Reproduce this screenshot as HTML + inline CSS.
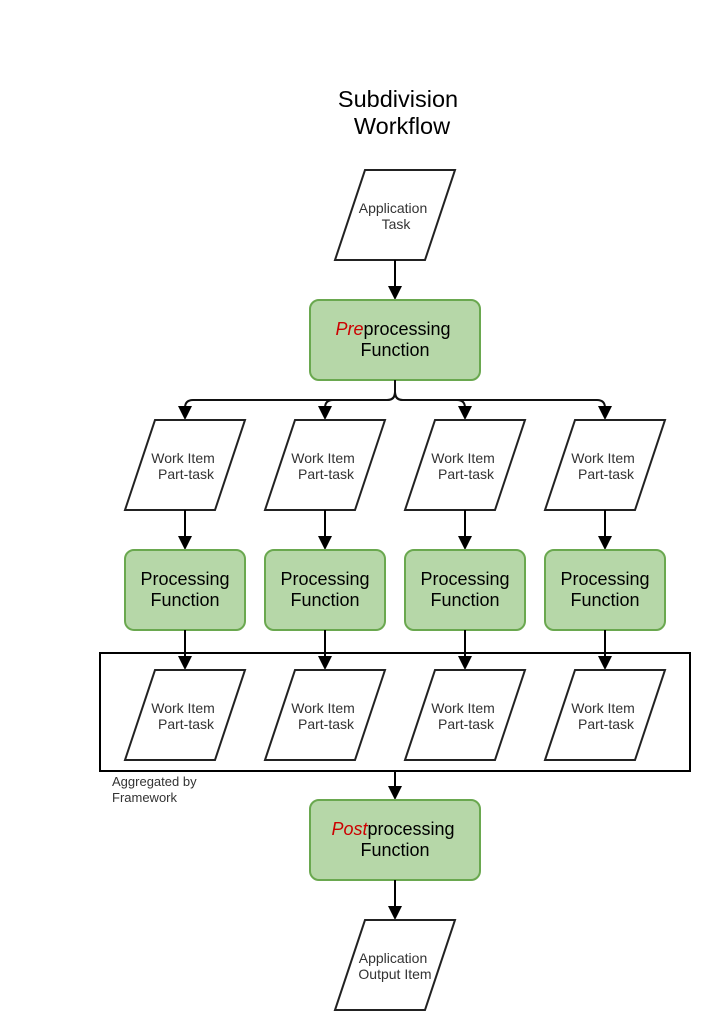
<!DOCTYPE html>
<html><head><meta charset="utf-8"><style>
html,body{margin:0;padding:0;background:#fff;}
svg{display:block;font-family:"Liberation Sans",Arial,sans-serif;}
</style></head><body>
<svg width="710" height="1030" viewBox="0 0 710 1030" xmlns="http://www.w3.org/2000/svg">
<g font-size="23.5" fill="#000" text-anchor="middle">
<text x="398" y="107">Subdivision</text>
<text x="402" y="134">Workflow</text>
</g>

<!-- Application Task -->
<polygon points="365,170 455,170 425,260 335,260" fill="#fff" stroke="#222" stroke-width="2"/>
<g font-size="14" fill="#333" text-anchor="middle">
<text x="393" y="213">Application</text>
<text x="396" y="229">Task</text>
</g>
<line x1="395" y1="260" x2="395" y2="287" stroke="#000" stroke-width="2"/>
<polygon points="388,286 402,286 395,300" fill="#000"/>

<!-- Pre -->
<rect x="310" y="300" width="170" height="80" rx="9" fill="#b6d7a8" stroke="#6aa84f" stroke-width="2"/>
<text x="393" y="335" font-size="18" text-anchor="middle"><tspan fill="#cc0000" font-style="italic">Pre</tspan>processing</text>
<text x="395" y="356" font-size="18" text-anchor="middle">Function</text>

<!-- branch -->
<g fill="none" stroke="#111" stroke-width="2">
<path d="M395,380 L395,392 Q395,400 387,400 L193,400 Q185,400 185,408 L185,410"/>
<path d="M395,392 Q395,400 387,400 L333,400 Q325,400 325,408 L325,410"/>
<path d="M395,392 Q395,400 403,400 L457,400 Q465,400 465,408 L465,410"/>
<path d="M395,392 Q395,400 403,400 L597,400 Q605,400 605,408 L605,410"/>
</g>

<g id="col">
<polygon points="178,406 192,406 185,420" fill="#000"/>
<polygon points="155,420 245,420 215,510 125,510" fill="#fff" stroke="#222" stroke-width="2"/>
<text x="183" y="463" font-size="14" fill="#333" text-anchor="middle">Work Item</text>
<text x="186" y="479" font-size="14" fill="#333" text-anchor="middle">Part-task</text>
<line x1="185" y1="510" x2="185" y2="537" stroke="#000" stroke-width="2"/>
<polygon points="178,536 192,536 185,550" fill="#000"/>
<rect x="125" y="550" width="120" height="80" rx="9" fill="#b6d7a8" stroke="#6aa84f" stroke-width="2"/>
<text x="185" y="585" font-size="18" text-anchor="middle">Processing</text>
<text x="185" y="606" font-size="18" text-anchor="middle">Function</text>
<line x1="185" y1="630" x2="185" y2="657" stroke="#000" stroke-width="2"/>
<polygon points="178,656 192,656 185,670" fill="#000"/>
<polygon points="155,670 245,670 215,760 125,760" fill="#fff" stroke="#222" stroke-width="2"/>
<text x="183" y="713" font-size="14" fill="#333" text-anchor="middle">Work Item</text>
<text x="186" y="729" font-size="14" fill="#333" text-anchor="middle">Part-task</text>
</g>
<use href="#col" x="140"/>
<use href="#col" x="280"/>
<use href="#col" x="420"/>

<!-- aggregate -->
<rect x="100" y="653" width="590" height="118" fill="none" stroke="#000" stroke-width="2"/>
<text x="112" y="786" font-size="13" fill="#333">Aggregated by</text>
<text x="112" y="802" font-size="13" fill="#333">Framework</text>
<line x1="395" y1="771" x2="395" y2="787" stroke="#000" stroke-width="2"/>
<polygon points="388,786 402,786 395,800" fill="#000"/>

<!-- Post -->
<rect x="310" y="800" width="170" height="80" rx="9" fill="#b6d7a8" stroke="#6aa84f" stroke-width="2"/>
<text x="393" y="835" font-size="18" text-anchor="middle"><tspan fill="#cc0000" font-style="italic">Post</tspan>processing</text>
<text x="395" y="856" font-size="18" text-anchor="middle">Function</text>
<line x1="395" y1="880" x2="395" y2="907" stroke="#000" stroke-width="2"/>
<polygon points="388,906 402,906 395,920" fill="#000"/>

<!-- Output -->
<polygon points="365,920 455,920 425,1010 335,1010" fill="#fff" stroke="#222" stroke-width="2"/>
<text x="393" y="963" font-size="14" fill="#333" text-anchor="middle">Application</text>
<text x="395" y="979" font-size="14" fill="#333" text-anchor="middle">Output Item</text>
</svg>
</body></html>
